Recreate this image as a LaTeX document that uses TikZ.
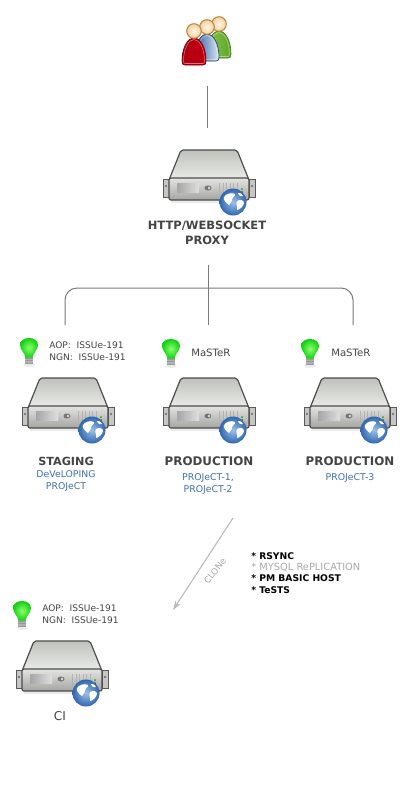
\documentclass[tikz,border=0pt]{standalone}
\usepackage{fontspec}
\setmainfont{DejaVu Sans}
\usetikzlibrary{arrows.meta}
\definecolor{wire}{HTML}{7A7A7A}
\definecolor{titlec}{HTML}{444444}
\definecolor{subc}{HTML}{3F6FAF}
\definecolor{noteg}{HTML}{A8A8A8}
\definecolor{globein}{HTML}{9CC2EA}
\definecolor{globeout}{HTML}{2F66AE}
\definecolor{bulbin}{HTML}{8CFF70}
\definecolor{bulbout}{HTML}{12D012}
\definecolor{headline}{HTML}{B8893A}
\definecolor{headin}{HTML}{FFF6E8}
\definecolor{headout}{HTML}{F3CFA0}
\definecolor{greenp}{HTML}{5FA82A}
\definecolor{greenl}{HTML}{86C24A}
\definecolor{bluep}{HTML}{2F5FA5}
\definecolor{bluel}{HTML}{DDE6F3}
\definecolor{redp}{HTML}{C00010}
\definecolor{redl}{HTML}{B00010}
\definecolor{topa}{HTML}{BFC1BB}
\definecolor{topb}{HTML}{ECEDEA}
\definecolor{pana}{HTML}{E4E5E2}
\definecolor{panb}{HTML}{A3A5A0}
\tikzset{
  px/.style={x=0.75pt,y=-0.75pt},
  wirel/.style={draw=wire,line width=0.75pt},
  title/.style={font=\fontsize{8.9}{11.2}\selectfont\bfseries,text=titlec,align=center,inner sep=0pt},
  sub/.style={font=\fontsize{7}{8.6}\selectfont,text=subc,align=center,inner sep=0pt},
  small/.style={font=\fontsize{6.8}{8.8}\selectfont,text=titlec,align=left,anchor=west,inner sep=0pt},
  note/.style={font=\fontsize{6.9}{8.3}\selectfont\bfseries,text=black,anchor=west,inner sep=0pt},
  pics/serverpic/.style={code={
    % ears
    \fill[gray!45,draw=black!65,line width=.5pt] (-46,29) rectangle (-40,47);
    \fill[gray!45,draw=black!65,line width=.5pt] (40,29) rectangle (46,47);
    \fill[black!60] (-43,36) circle (1.1);
    \fill[black!60] (43,36) circle (1.1);
    % shadow
    \fill[black!8] (-38,50) rectangle (38,53);
    % top face
    \draw[line width=.9pt,draw=black!70,top color=topa,bottom color=topb,rounded corners=1.5pt]
      (-28,0) -- (28,0) -- (40,30) -- (-40,30) -- cycle;
    % front panel
    \draw[line width=.9pt,draw=black!70,top color=pana,bottom color=panb,rounded corners=1.5pt]
      (-40,28) rectangle (40,50);
    % slot
    \fill[left color=gray!70,right color=gray!25] (-32,33) rectangle (-10,42);
    \fill[black!55] (-1,38) ellipse (3.5 and 2.5);
    \fill[gray!25] (0,38) circle (1.3);
    % vents
    \foreach \vx in {10,13.5,...,28}{\fill[gray!60] (\vx,33) rectangle +(1.4,14);}
    \fill[green!70!black] (33,39) circle (1);
    \fill[red!80!black] (33,42) circle (1);
    % globe
    \begin{scope}[shift={(2,1)}]
    \shade[inner color=globein,outer color=globeout] (22,51) circle (13.5);
    \fill[white] (13,46) .. controls (15,43) and (20,41) .. (24,43)
      .. controls (25,45) and (21,46) .. (21,48) .. controls (22,50) and (19,52) .. (18,54)
      .. controls (15,52) and (12,49) .. (13,46) -- cycle;
    \fill[white] (26,50) .. controls (29,48) and (33,49) .. (33,52)
      .. controls (33,55) and (28,59) .. (26,59) .. controls (27,56) and (24,53) .. (26,50) -- cycle;
    \fill[white] (27,42) .. controls (29,41) and (31,43) .. (32,45) .. controls (30,46) and (28,45) .. (27,42) -- cycle;
    \end{scope}
  }},
  pics/bulbpic/.style={code={
    \fill[black!8] (0,14) ellipse (6 and 1.8);
    \fill[gray!60] (-4,6) rectangle (4,13);
    \foreach \by in {7,9.5,12}{\draw[black!40,line width=.4pt] (-4,\by) -- (4,\by);}
    \shade[inner color=bulbin,outer color=bulbout]
      (-3.5,6.5) .. controls (-4,2) and (-9,-1) .. (-9,-6) .. controls (-9,-11) and (-4,-13) .. (0,-13)
      .. controls (4,-13) and (9,-11) .. (9,-6) .. controls (9,-1) and (4,2) .. (3.5,6.5) -- cycle;
  }},
  pics/person/.style n args={3}{code={
    \draw[draw=#3,line width=.5pt,left color=#2,right color=#1]
      (-12,-4) .. controls (-12,-18) and (-6,-27) .. (0,-27) .. controls (6,-27) and (12,-18) .. (12,-4)
      .. controls (12,-1) and (11,0) .. (9,0) -- (-9,0) .. controls (-11,0) and (-12,-1) .. (-12,-4) -- cycle;
    \draw[white,opacity=.45,line width=.4pt]
      (-10.5,-4) .. controls (-10.5,-17) and (-5,-25.5) .. (0,-25.5) .. controls (5,-25.5) and (10.5,-17) .. (10.5,-4)
      .. controls (10.5,-2) and (10,-1.5) .. (9,-1.5) -- (-9,-1.5) .. controls (-10,-1.5) and (-10.5,-2) .. (-10.5,-4) -- cycle;
    \shade[draw=headline,line width=.8pt,inner color=headin,outer color=headout] (0,-34) circle (7.3);
  }}
}
\begin{document}
\begin{tikzpicture}[px]
\useasboundingbox (0,0) rectangle (407,800);
% users
\pic at (219,58) {person={greenp}{greenl}{greenp!70!black}};
\pic at (207,61) {person={bluel}{bluep}{bluep!70!black}};
\pic at (194,65) {person={redp}{redl}{redp!60!black}};
% servers
\pic at (209,150) {serverpic};
\pic at (68,378) {serverpic};
\pic at (209,378) {serverpic};
\pic at (350,378) {serverpic};
\pic at (62,641) {serverpic};
% bulbs
\pic at (29,351) {bulbpic};
\pic at (171,352) {bulbpic};
\pic at (310,352) {bulbpic};
\pic at (22,614) {bulbpic};
% connector anchors
\coordinate (usersout) at (207.5,86);
\coordinate (proxyin) at (207.5,128);
\coordinate (proxyout) at (208,265);
\coordinate (treejoin) at (208,288);
\coordinate (stagingin) at (65,325);
\coordinate (prodin) at (208,325);
\coordinate (prodthreein) at (353,325);
\coordinate (clonestart) at (233,518);
\coordinate (cloneend) at (173,610);
% connectors
\draw[wirel] (usersout) -- (proxyin);
\draw[wirel] (proxyout) -- (prodin);
\draw[wirel,rounded corners=9pt] (stagingin) |- (treejoin) -| (prodthreein);
\draw[draw=black!28,line width=.8pt,-{Stealth[length=7pt,width=4.5pt]}] (clonestart) -- (cloneend);
% titles
\node[title,font=\fontsize{8.6}{11.2}\selectfont\bfseries] (proxylabel) at (207,233) {HTTP/WEBSOCKET\\PROXY};
\node[title,font=\fontsize{8.4}{11}\selectfont\bfseries] (staginglabel) at (66,461) {STAGING};
\node[title] (prodlabel) at (209,461) {PRODUCTION};
\node[title] (prodthreelabel) at (350,461) {PRODUCTION};
\node[title,font=\fontsize{9.1}{11}\selectfont] (cilabel) at (60,716) {CI};
% subtitles
\node[sub] (stagingsub) at (66,481) {DeVeLOPING\\PROJeCT};
\node[sub] (prodsub) at (208,484) {PROJeCT-1,\\PROJeCT-2};
\node[sub] (prodthreesub) at (350,478) {PROJeCT-3};
% branches
\node[small] (stagingbr) at (49,351) {AOP:\ \ ISSUe-191\\NGN:\ \ ISSUe-191};
\node[small,font=\fontsize{7.6}{9}\selectfont] (prodbr) at (191,353) {MaSTeR};
\node[small,font=\fontsize{7.6}{9}\selectfont] (prodthreebr) at (331,353) {MaSTeR};
\node[small] (cibr) at (42,614) {AOP:\ \ ISSUe-191\\NGN:\ \ ISSUe-191};
% clone
\node[font=\fontsize{6.6}{8}\selectfont,text=noteg,rotate=52,inner sep=0pt] (clonelabel) at (215,571) {CLONe};
% notes
\node[note] (noteone) at (251,556.5) {* RSYNC};
\node[note,text=noteg,font=\fontsize{7.4}{8.3}\selectfont] (notetwo) at (251,567.5) {* MYSQL RePLICATION};
\node[note] (notethree) at (251,578.5) {* PM BASIC HOST};
\node[note] (notefour) at (251,590) {* TeSTS};
\end{tikzpicture}
\end{document}
